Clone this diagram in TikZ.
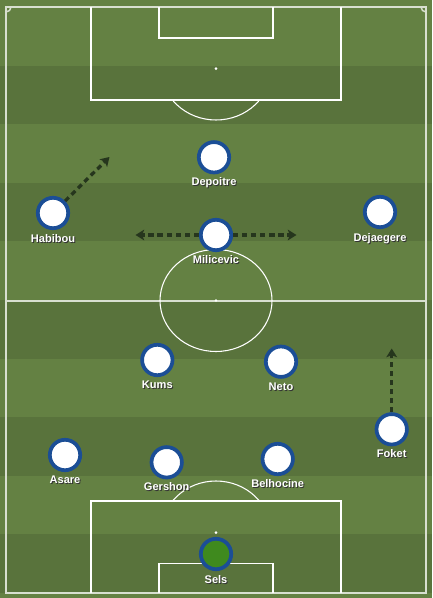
\documentclass[tikz,border=0pt]{standalone}
\usepackage{fontspec}
\setmainfont{Liberation Sans}
\usetikzlibrary{arrows.meta}
\definecolor{grlight}{RGB}{100,129,67}
\definecolor{grdark}{RGB}{89,115,60}
\definecolor{pblue}{RGB}{27,78,150}
\definecolor{kgreen}{RGB}{63,138,30}
\definecolor{arrowc}{RGB}{38,54,29}
\newcommand\shtext[1]{\makebox[0pt][l]{\hspace{0.75pt}\raisebox{-0.75pt}{\textcolor{black!80}{#1}}}#1}
\begin{document}
\begin{tikzpicture}[x=0.75pt,y=-0.75pt,
 player/.style={circle, draw=pblue, line width=2.8pt, fill=white, minimum size=22.8pt, inner sep=0pt},
 keeper/.style={player, fill=kgreen},
 lbl/.style={text=white, font=\bfseries\fontsize{8.3}{9.5}\selectfont, inner sep=0pt},
 run/.style={draw=arrowc, line width=2.5pt, dash pattern=on 3.9pt off 2.9pt, -{Stealth[length=6.5pt,width=8pt,inset=1.5pt]}},
 pline/.style={draw=white, line width=0.8pt},
 oline/.style={draw=white!75!grlight, line width=1.1pt}
]
\useasboundingbox (0,0) rectangle (432,598);
\fill[grlight] (0,0) rectangle (432,598);
\foreach \i in {1,3,5,7,9}
  \fill[grdark] (0,{7+58.6*\i}) rectangle (432,{7+58.6*(\i+1)});
% outer lines
\draw[oline] (6,7) rectangle (426,593);
\draw[oline] (6,301) -- (426,301);
% corner arcs
\draw[oline] (6,12) arc[start angle=-90,end angle=0,radius=5*0.75pt];
\draw[oline] (421,7) arc[start angle=180,end angle=270,radius=5*0.75pt];
% top box
\draw[pline] (91,7) -- (91,100) -- (341,100) -- (341,7);
\draw[pline] (159,7) -- (159,38) -- (273,38) -- (273,7);
\fill[white] (216,68.7) circle[radius=1.1pt];
\begin{scope}
\clip (80,100.4) rectangle (350,200);
\draw[pline] (216,68.7) ellipse[x radius=55*0.75pt, y radius=51.3*0.75pt];
\end{scope}
% bottom box
\draw[pline] (91,593) -- (91,501) -- (341,501) -- (341,593);
\draw[pline] (159,593) -- (159,563.3) -- (273,563.3) -- (273,593);
\fill[white] (216,532.7) circle[radius=1.1pt];
\begin{scope}
\clip (80,400) rectangle (350,500.6);
\draw[pline] (216,532.7) ellipse[x radius=55*0.75pt, y radius=51.7*0.75pt];
\end{scope}
% centre
\draw[pline] (216,300.5) ellipse[x radius=56*0.75pt, y radius=51*0.75pt];
\fill[white] (216,300.5) circle[radius=1.1pt];
% players
\node[player] (dep) at (214,157.3) {};
\node[player] (hab) at (53,213) {};
\node[player] (dej) at (380,212) {};
\node[player] (mil) at (216,235) {};
\node[player] (kum) at (157.3,360) {};
\node[player] (net) at (281,361.7) {};
\node[player] (fok) at (391.7,429.3) {};
\node[player] (asa) at (65,455) {};
\node[player] (ger) at (166.7,462.3) {};
\node[player] (bel) at (277.7,459) {};
\node[keeper] (sel) at (216,554) {};
% labels
\node[lbl] at ([yshift=-19.2pt]dep.center) {\shtext{Depoitre}};
\node[lbl] at ([yshift=-19.8pt]hab.center) {\shtext{Habibou}};
\node[lbl] at ([yshift=-20.3pt]dej.center) {\shtext{Dejaegere}};
\node[lbl] at ([yshift=-18.8pt]mil.center) {\shtext{Milicevic}};
\node[lbl] at ([yshift=-18.8pt]kum.center) {\shtext{Kums}};
\node[lbl] at ([yshift=-19.2pt]net.center) {\shtext{Neto}};
\node[lbl] at ([yshift=-18.5pt]fok.center) {\shtext{Foket}};
\node[lbl] at ([yshift=-18.8pt]asa.center) {\shtext{Asare}};
\node[lbl] at ([yshift=-18.3pt]ger.center) {\shtext{Gershon}};
\node[lbl] at ([yshift=-18.8pt]bel.center) {\shtext{Belhocine}};
\node[lbl] at ([yshift=-19.5pt]sel.center) {\shtext{Sels}};
% runs
\coordinate (habT) at (109.5,157);
\coordinate (milL) at (135.5,235);
\coordinate (milR) at (296.5,235);
\coordinate (fokT) at (391.7,348.5);
\draw[run] (hab) -- (habT);
\draw[run] (mil) -- (milL);
\draw[run] (mil) -- (milR);
\draw[run] (fok) -- (fokT);
\end{tikzpicture}
\end{document}
